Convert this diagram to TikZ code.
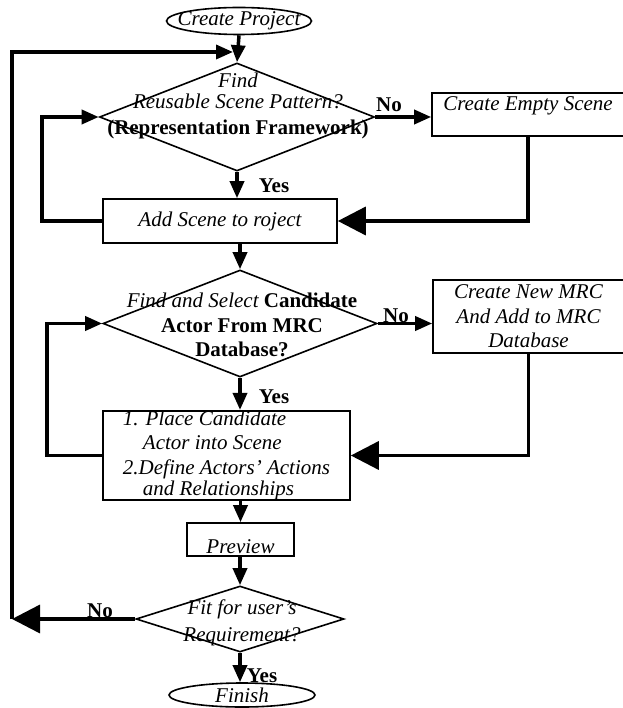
\documentclass[tikz,border=0pt]{standalone}
\usepackage{fontspec}
\setmainfont{Liberation Serif}
\usetikzlibrary{shapes.geometric, arrows.meta}
\tikzset{>={Triangle[width=14pt,length=17pt]}}

\begin{document}
\begin{tikzpicture}[
    x = 1pt, y = -1pt,
    font = \fontsize{21}{24.5}\selectfont,
    every node/.style = {inner sep = 0pt},
    proc/.style = {draw, line width=1.6pt, rectangle},
    dec/.style = {draw, line width=1.6pt, diamond},
    term/.style = {draw, line width=1.6pt, ellipse},
    line/.style = {line width=3.5pt},
    arr/.style = {line, ->},
    bigarr/.style = {line, -{Triangle[width=28pt,length=28pt]}},
    lbl/.style = {font=\fontsize{21}{24.5}\selectfont\bfseries}
  ]
  \useasboundingbox (0,0) rectangle (622,708);

  \node[term, minimum width=145pt, minimum height=27pt] (start) at (239,21) {\makebox[0pt]{\itshape Create Project}};
  \node[dec, minimum width=275pt, minimum height=108pt] (d1) at (237,117) {};
  \node[align=center] (d1t) at (238,106) {{\itshape Find}\\[-4pt]{\itshape Reusable Scene Pattern?}\\[2pt]{\bfseries (Representation Framework)}};
  \node[proc, minimum width=192pt, minimum height=43pt, text height=18pt, text depth=25pt] (empty) at (528,114.5) {\itshape Create Empty Scene};
  \node[proc, minimum width=234pt, minimum height=44pt] (add) at (220,221) {\itshape Add Scene to roject};

  \node[dec, minimum width=274pt, minimum height=107pt] (d2) at (240,323.5) {};
  \node[align=center] (d2t) at (242,325) {{\itshape Find and Select} {\bfseries Candidate}\\{\bfseries Actor From MRC}\\{\bfseries Database?}};
  \node[proc, minimum width=191pt, minimum height=73pt, align=center] (mrc) at (528.5,316.5) {{\itshape Create New MRC}\\{\itshape And Add to MRC}\\{\itshape Database}};
  \node[proc, minimum width=247pt, minimum height=89pt, align=left] (place) at (226.5,455.5) {{\itshape 1. Place Candidate}\\{\itshape\hspace*{20pt}Actor into Scene}\\{\itshape 2.Define Actors' Actions}\\[-3pt]{\itshape\hspace*{20pt}and Relationships}};
  \node[proc, minimum width=107pt, minimum height=33pt, text height=30pt, text depth=3pt] (prev) at (240.5,539.5) {\itshape Preview};

  \node[dec, minimum width=208pt, minimum height=66pt] (d3) at (240,619) {};
  \node[align=center] (d3t) at (242,623) {{\itshape Fit for user's}\\[2pt]{\itshape Requirement?}};
  \node[term, minimum width=146pt, minimum height=24pt] (fin) at (242,695) {\itshape Finish};

  \node[lbl] (no1) at (389,105) {No};
  \node[lbl] (yes1) at (274,186) {Yes};
  \node[lbl] (no2) at (396,316) {No};
  \node[lbl] (yes2) at (274,397) {Yes};
  \node[lbl] (no3) at (100,611) {No};
  \node[lbl] (yes3) at (262,676) {Yes};

  \coordinate (bl) at (12,619);
  \coordinate (tl) at (12,52);
  \coordinate (tj) at (233,52);

  \draw[arr] (start.south) -- (d1.north);
  \draw[arr] (d1.east) -- (d1.east -| empty.west);
  \draw[arr] (d1.south) -- (d1.south |- add.north);
  \draw[bigarr] (empty.south) |- (add.east);
  \draw[arr] (add.west) -- ++(-60,0) |- (d1.west);
  \draw[arr] (add.south -| d2.north) -- (d2.north);
  \draw[arr] (d2.east) -- (d2.east -| mrc.west);
  \draw[arr] (d2.south) -- (d2.south |- place.north);
  \draw[bigarr] (mrc.south) |- (place.east);
  \draw[arr] (place.west) -- ++(-55,0) |- (d2.west);
  \draw[arr] (place.south -| prev.north) -- (prev.north);
  \draw[arr] (prev.south -| d3.north) -- (d3.north);
  \draw[arr] (d3.south) -- (d3.south |- fin.north);
  \draw[bigarr] (d3.west) -- (bl);
  \draw[arr] (bl) -- (tl) -- (tj);
\end{tikzpicture}
\end{document}
